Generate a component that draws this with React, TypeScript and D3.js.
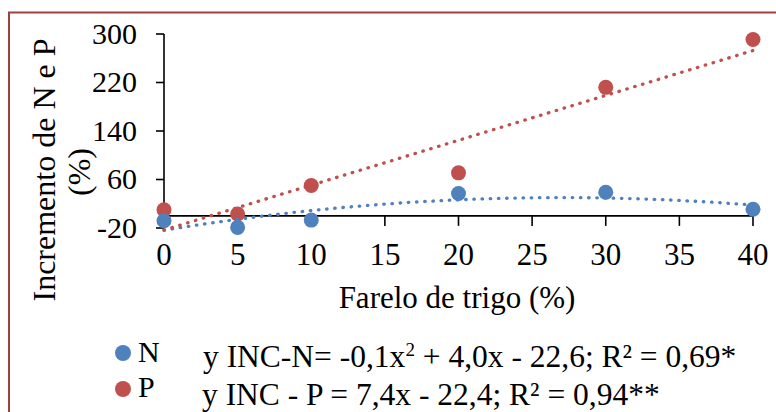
import * as d3 from "d3";

const farelo = [0, 5, 10, 20, 30, 40];
const incN = [-8, -19, -7, 37, 39, 11];
const incP = [10, 3, 50, 71, 212, 291];
const yTicks = [-20, 60, 140, 220, 300];
const xTicks = [0, 5, 10, 15, 20, 25, 30, 35, 40];

const BLUE = "#4F81BD";
const RED = "#C0504D";
const FONT = "Liberation Serif, Times New Roman, serif";

// least squares polynomial fit (degree 1 or 2), like Excel's trendline
function polyFit(xs: number[], ys: number[], deg: number) {
  const n = deg + 1;
  const A: number[][] = [];
  for (let i = 0; i < n; i++) {
    A.push([]);
    for (let j = 0; j < n; j++) A[i].push(d3.sum(xs, (x) => Math.pow(x, i + j)));
    A[i].push(d3.sum(xs, (x, k) => Math.pow(x, i) * ys[k]));
  }
  for (let c = 0; c < n; c++) {
    for (let r = c + 1; r < n; r++) {
      const f = A[r][c] / A[c][c];
      for (let k = c; k <= n; k++) A[r][k] -= f * A[c][k];
    }
  }
  const coef = new Array(n).fill(0);
  for (let r = n - 1; r >= 0; r--) {
    let s = A[r][n];
    for (let k = r + 1; k < n; k++) s -= A[r][k] * coef[k];
    coef[r] = s / A[r][r];
  }
  return (x: number) => coef.reduce((acc, c, i) => acc + c * Math.pow(x, i), 0);
}

export default function App() {
  const x = d3.scaleLinear().domain([0, 40]).range([164, 753]);
  const y = d3.scaleLinear().domain([-20, 300]).range([228, 34]);

  const fitN = polyFit(farelo, incN, 2);
  const fitP = polyFit(farelo, incP, 1);
  const xs = d3.range(0, 40.01, 0.5);
  const line = d3.line<number>().x((d) => x(d));
  const pathN = line.y((d) => y(fitN(d)))(xs) as string;
  const pathP = line.y((d) => y(fitP(d)))(xs) as string;

  const dots = { strokeWidth: 3.3, strokeDasharray: "0.5 7.7", strokeLinecap: "round" as const, fill: "none" };

  return (
    <svg
      width={776}
      height={412}
      style={{ position: "absolute", left: 0, top: 0, background: "white", fontFamily: FONT }}
    >
      <rect x={9} y={12.5} width={800} height={420} fill="none" stroke="#A0403D" strokeWidth={2} />

      {/* axes */}
      <line x1={x(0)} x2={x(0)} y1={y(300)} y2={y(-20)} stroke="black" strokeWidth={1.6} />
      <line x1={x(0)} x2={x(40)} y1={y(0)} y2={y(0)} stroke="black" strokeWidth={1.6} />
      {yTicks.map((t) => (
        <g key={t}>
          <line x1={x(0) - 8} x2={x(0)} y1={y(t)} y2={y(t)} stroke="black" strokeWidth={1.6} />
          <text x={137} y={y(t)} dy="0.32em" textAnchor="end" fontSize={30}>
            {t}
          </text>
        </g>
      ))}
      {xTicks.map((t) => (
        <g key={t}>
          <line x1={x(t)} x2={x(t)} y1={y(0)} y2={y(0) + 10} stroke="black" strokeWidth={1.6} />
          <text x={x(t)} y={265} textAnchor="middle" fontSize={31}>
            {t}
          </text>
        </g>
      ))}

      {/* markers */}
      {farelo.map((f, i) => (
        <circle key={"p" + f} cx={x(f)} cy={y(incP[i])} r={7.5} fill={RED} />
      ))}
      {farelo.map((f, i) => (
        <circle key={"n" + f} cx={x(f)} cy={y(incN[i])} r={7.5} fill={BLUE} />
      ))}

      {/* trendlines */}
      <path d={pathN} stroke={BLUE} {...dots} />
      <path d={pathP} stroke={RED} {...dots} />

      {/* titles */}
      <text x={457} y={308} textAnchor="middle" fontSize={31}>
        Farelo de trigo (%)
      </text>
      <text transform="translate(55,170) rotate(-90)" textAnchor="middle" fontSize={32}>
        Incremento de N e P
      </text>
      <text transform="translate(90,172) rotate(-90)" textAnchor="middle" fontSize={32}>
        (%)
      </text>

      {/* legend */}
      <circle cx={123} cy={353} r={8} fill={BLUE} />
      <text x={138} y={362} fontSize={30}>N</text>
      <circle cx={123} cy={389} r={8} fill={RED} />
      <text x={138} y={397} fontSize={30}>P</text>
      <text x={203} y={367} fontSize={31.5}>
        y INC-N= -0,1x<tspan dy={-11} fontSize={19}>2</tspan>
        <tspan dy={11}> + 4,0x - 22,6; R² = 0,69*</tspan>
      </text>
      <text x={202} y={405} fontSize={31.5}>
        y INC - P = 7,4x - 22,4; R² = 0,94**
      </text>
    </svg>
  );
}
